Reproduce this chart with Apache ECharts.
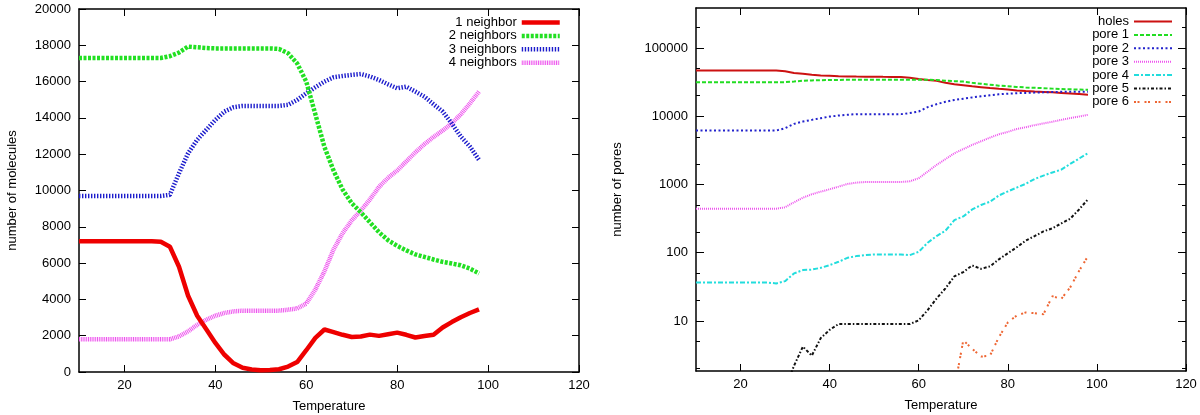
<!DOCTYPE html>
<html><head><meta charset="utf-8">
<script src="https://cdn.jsdelivr.net/npm/echarts@6/dist/echarts.min.js"></script>
<style>html,body{margin:0;padding:0;background:#fff}#c{width:1200px;height:415px}</style>
</head><body><div id="c"></div><script>
const temperature = [10,12,14,16,18,20,22,24,26,28,30,32,34,36,38,40,42,44,46,48,50,52,54,56,58,60,62,64,66,68,70,72,74,76,78,80,82,84,86,88,90,92,94,96,98];

// left panel: number of molecules
const oneNeighbor = [7200,7200,7200,7200,7200,7200,7200,7200,7200,7180,6900,5800,4200,3100,2350,1600,950,480,230,140,100,110,150,300,550,1200,1880,2340,2200,2050,1930,1960,2060,1990,2080,2170,2050,1900,1980,2050,2450,2750,3020,3250,3450];
const twoNeighbors = [17300,17300,17300,17300,17300,17300,17300,17300,17300,17300,17400,17600,17930,17890,17850,17830,17830,17830,17830,17830,17830,17830,17800,17560,17000,16000,14200,12400,11100,10050,9300,8800,8250,7700,7260,6950,6700,6480,6340,6200,6070,5980,5880,5700,5430];
const threeNeighbors = [9700,9700,9700,9700,9700,9700,9700,9700,9700,9700,9760,10950,12050,12790,13340,13890,14350,14590,14660,14660,14660,14660,14660,14720,14990,15360,15690,16000,16240,16310,16370,16420,16280,16090,15850,15630,15720,15450,15170,14750,14350,13700,12970,12420,11690];
const fourNeighbors = [1800,1800,1800,1800,1800,1800,1800,1800,1800,1800,1800,1960,2240,2600,2880,3100,3250,3340,3380,3380,3380,3380,3380,3430,3500,3770,4550,5550,6750,7650,8350,8900,9500,10200,10700,11100,11600,12100,12550,12950,13300,13700,14200,14800,15450];

// right panel: number of pores (log scale)
const holes = [46900,46900,46900,46900,46900,46900,46900,46900,46900,46900,45500,43000,41800,40500,39600,39200,38700,38300,38100,38000,38000,37800,37700,37500,36600,35100,34000,33000,31000,29500,28500,27500,26700,25900,25200,24600,23900,23400,23000,22700,22400,22000,21600,21100,20600];
const pore1 = [31600,31600,31600,31600,31600,31600,31600,31600,31600,31600,31600,32300,33100,33500,33800,33900,34000,34300,34300,34300,34300,34300,34300,34300,34300,34300,34300,34000,33200,32700,32200,31000,29900,29000,28100,27600,26900,26400,26100,25800,25400,25000,24800,24600,24400];
const pore2 = [6170,6170,6170,6170,6170,6170,6170,6170,6170,6170,6680,7730,8350,8850,9370,9900,10240,10490,10740,10740,10740,10740,10740,10740,11120,11730,13600,15000,16300,17300,18100,18900,19600,20300,21000,21400,21800,22000,22200,22400,22600,22800,22800,22800,22800];
const pore3 = [442,442,442,442,442,442,442,442,442,442,462,548,640,718,785,851,929,1017,1063,1088,1088,1088,1088,1088,1113,1234,1543,1934,2350,2870,3300,3800,4300,4860,5450,5900,6500,6900,7400,7850,8300,8850,9400,9900,10500];
const pore4 = [36.6,36.6,36.6,36.6,36.6,36.6,36.6,36.6,36.6,35.4,38.3,49.7,55.6,56.5,60,65.7,73.6,84.2,89.1,92.2,94.4,94.4,94.4,94.4,92.2,103,140,175,210,300,340,430,500,559,690,790,900,1020,1200,1350,1500,1650,2000,2400,2870];
const pore5 = [null,null,null,null,null,null,null,null,null,null,1,2.2,4.2,3.1,5.6,7.4,9,9,9,9,9,9,9,9,9,10.2,14.4,21.3,30,45,52,65,58,63,80,98,120,150,175,205,228,268,315,430,607];
const pore6 = [null,null,null,null,null,null,null,null,null,null,null,null,null,null,null,null,null,null,null,null,null,null,null,null,null,null,null,null,null,1,5.2,3.9,3.0,3.1,5.8,9.5,12,13.3,13,12.5,23,21,31,54,89];

const xTicks = [20,40,60,80,100,120];
const logMajor = [10,100,1000,10000,100000];
const logMinor = [2,5,20,50,200,500,2000,5000,20000,50000,200000];

const FONT = "'Liberation Sans', Arial, sans-serif";
const pairs = v => temperature.map((t, i) => [t, v[i]]);
const fmt = v => String(Math.round(v));

const chart = echarts.init(document.getElementById('c'), null, {renderer: 'canvas'});

function xAx(grid, top, withName) {
  return {
    type: 'value', gridIndex: grid, position: top ? 'top' : 'bottom', min: 10, max: 120,
    axisLine: {show: true, onZero: false, lineStyle: {color: '#000', width: 1.5}},
    axisTick: {show: true, inside: true, length: 7, customValues: xTicks, lineStyle: {color: '#000', width: 1}},
    axisLabel: {show: !top, customValues: xTicks, color: '#000', fontSize: 13, fontFamily: FONT, margin: 7},
    splitLine: {show: false},
    name: withName ? 'Temperature' : '', nameLocation: 'middle', nameGap: 28,
    nameTextStyle: {color: '#000', fontSize: 13, fontFamily: FONT}
  };
}

const lineCommon = {type: 'line', symbol: 'none', showSymbol: false, smooth: false, clip: true, animation: false};

const option = {
  animation: false,
  backgroundColor: '#fff',
  textStyle: {fontFamily: FONT},
  grid: [
    {left: 79, top: 9, width: 500, height: 363, outerBoundsMode: 'none'},
    {left: 696, top: 8, width: 490, height: 363, outerBoundsMode: 'none'}
  ],
  legend: [
    {
      data: ['1 neighbor', '2 neighbors', '3 neighbors', '4 neighbors'],
      orient: 'vertical', right: 633, top: 11, align: 'right',
      itemWidth: 38, itemHeight: 13, itemGap: 0.4,
      itemStyle: {opacity: 0}, lineStyle: {width: 4.5},
      textStyle: {color: '#000', fontSize: 13, fontFamily: FONT, lineHeight: 13},
      selectedMode: false
    },
    {
      data: ['holes', 'pore 1', 'pore 2', 'pore 3', 'pore 4', 'pore 5', 'pore 6'],
      orient: 'vertical', right: 22, top: 10, align: 'right',
      itemWidth: 38, itemHeight: 13, itemGap: 0.4,
      itemStyle: {opacity: 0}, lineStyle: {width: 2},
      textStyle: {color: '#000', fontSize: 13, fontFamily: FONT, lineHeight: 13},
      selectedMode: false
    }
  ],
  xAxis: [xAx(0, false, true), xAx(0, true, false), xAx(1, false, true), xAx(1, true, false)],
  yAxis: [
    {
      type: 'value', gridIndex: 0, position: 'left', min: 0, max: 20000, interval: 2000,
      axisLine: {show: true, lineStyle: {color: '#000', width: 1.5}},
      axisTick: {show: true, inside: true, length: 7, lineStyle: {color: '#000'}},
      axisLabel: {color: '#000', fontSize: 13, fontFamily: FONT, margin: 8, formatter: fmt},
      splitLine: {show: false},
      name: 'number of molecules', nameLocation: 'middle', nameGap: 60,
      nameTextStyle: {color: '#000', fontSize: 13, fontFamily: FONT}
    },
    {
      type: 'value', gridIndex: 0, position: 'right', min: 0, max: 20000, interval: 2000,
      axisLine: {show: true, lineStyle: {color: '#000', width: 1.5}},
      axisTick: {show: true, inside: true, length: 7, lineStyle: {color: '#000'}},
      axisLabel: {show: false}, splitLine: {show: false}
    },
    {
      type: 'log', logBase: 10, gridIndex: 1, position: 'left', min: 1.845, max: 386000,
      axisLine: {show: true, lineStyle: {color: '#000', width: 1.5}},
      axisTick: {show: true, inside: true, length: 8, customValues: logMajor, lineStyle: {color: '#000'}},
      axisLabel: {customValues: logMajor, color: '#000', fontSize: 13, fontFamily: FONT, margin: 8, formatter: fmt},
      splitLine: {show: false},
      name: 'number of pores', nameLocation: 'middle', nameGap: 72,
      nameTextStyle: {color: '#000', fontSize: 13, fontFamily: FONT}
    },
    {
      type: 'log', logBase: 10, gridIndex: 1, position: 'left', min: 1.845, max: 386000,
      axisLine: {show: false},
      axisTick: {show: true, inside: true, length: 4, customValues: logMinor, lineStyle: {color: '#000'}},
      axisLabel: {show: false}, splitLine: {show: false}
    },
    {
      type: 'log', logBase: 10, gridIndex: 1, position: 'right', min: 1.845, max: 386000,
      axisLine: {show: true, lineStyle: {color: '#000', width: 1.5}},
      axisTick: {show: true, inside: true, length: 8, customValues: logMajor, lineStyle: {color: '#000'}},
      axisLabel: {show: false}, splitLine: {show: false}
    },
    {
      type: 'log', logBase: 10, gridIndex: 1, position: 'right', min: 1.845, max: 386000,
      axisLine: {show: false},
      axisTick: {show: true, inside: true, length: 4, customValues: logMinor, lineStyle: {color: '#000'}},
      axisLabel: {show: false}, splitLine: {show: false}
    }
  ],
  series: [
    Object.assign({}, lineCommon, {name: '1 neighbor', xAxisIndex: 0, yAxisIndex: 0, data: pairs(oneNeighbor),
      color: '#ee0000', lineStyle: {color: '#ee0000', width: 4.5}, z: 4}),
    Object.assign({}, lineCommon, {name: '2 neighbors', xAxisIndex: 0, yAxisIndex: 0, data: pairs(twoNeighbors),
      color: '#22e022', lineStyle: {color: '#22e022', width: 4.5, type: [3, 1.5]}, z: 3}),
    Object.assign({}, lineCommon, {name: '3 neighbors', xAxisIndex: 0, yAxisIndex: 0, data: pairs(threeNeighbors),
      color: '#1c1ccc', lineStyle: {color: '#1c1ccc', width: 4.5, type: [1.4, 1.6]}, z: 2}),
    Object.assign({}, lineCommon, {name: '4 neighbors', xAxisIndex: 0, yAxisIndex: 0, data: pairs(fourNeighbors),
      color: '#ee55ee', lineStyle: {color: '#ee55ee', width: 4.5, type: [1, 0.8]}, z: 1}),

    Object.assign({}, lineCommon, {name: 'holes', xAxisIndex: 2, yAxisIndex: 2, data: pairs(holes),
      color: '#cc1111', lineStyle: {color: '#cc1111', width: 2}}),
    Object.assign({}, lineCommon, {name: 'pore 1', xAxisIndex: 2, yAxisIndex: 2, data: pairs(pore1),
      color: '#22dd22', lineStyle: {color: '#22dd22', width: 2, type: [4, 2]}}),
    Object.assign({}, lineCommon, {name: 'pore 2', xAxisIndex: 2, yAxisIndex: 2, data: pairs(pore2),
      color: '#2222cc', lineStyle: {color: '#2222cc', width: 2, type: [2, 2.5]}}),
    Object.assign({}, lineCommon, {name: 'pore 3', xAxisIndex: 2, yAxisIndex: 2, data: pairs(pore3),
      color: '#ee55ee', lineStyle: {color: '#ee55ee', width: 2, type: [1, 1]}}),
    Object.assign({}, lineCommon, {name: 'pore 4', xAxisIndex: 2, yAxisIndex: 2, data: pairs(pore4),
      color: '#22dddd', lineStyle: {color: '#22dddd', width: 2, type: [5, 2, 2, 2]}}),
    Object.assign({}, lineCommon, {name: 'pore 5', xAxisIndex: 2, yAxisIndex: 2, data: pairs(pore5),
      color: '#111111', lineStyle: {color: '#111111', width: 2, type: [3, 2, 1.5, 2]}}),
    Object.assign({}, lineCommon, {name: 'pore 6', xAxisIndex: 2, yAxisIndex: 2, data: pairs(pore6),
      color: '#ee6633', lineStyle: {color: '#ee6633', width: 2, type: [2, 1.5, 2, 5]}})
  ]
};
chart.setOption(option);
</script></body></html>
